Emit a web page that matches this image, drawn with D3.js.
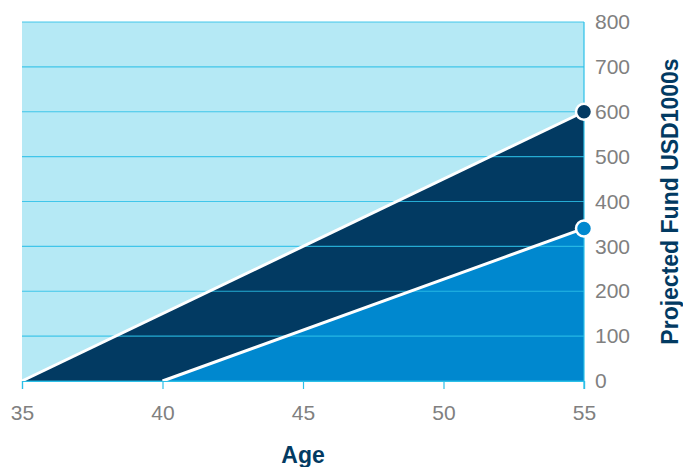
<!DOCTYPE html>
<html>
<head>
<meta charset="utf-8">
<script src="https://cdn.jsdelivr.net/npm/d3@7"></script>
<style>
  body { margin: 0; background: #fff; }
  text { font-family: "Liberation Sans", Arial, sans-serif; }
</style>
</head>
<body>
<script>
// data
const ages = [35, 40, 45, 50, 55]
const fundTicks = [0, 100, 200, 300, 400, 500, 600, 700, 800]
const totalAge = [35, 55]
const totalFund = [0, 600]
const partAge = [40, 55]
const partFund = [0, 340]

const width = 683
const height = 467
const margin = {top: 22, right: 99, bottom: 86, left: 22}

const svg = d3.select("body").append("svg")
    .attr("width", width)
    .attr("height", height)

const x = d3.scaleLinear()
    .domain([35, 55])
    .range([margin.left, width - margin.right])

const y = d3.scaleLinear()
    .domain([0, 800])
    .range([height - margin.bottom, margin.top])

// background
svg.append("rect")
    .attr("x", x(35))
    .attr("y", y(800))
    .attr("width", x(55) - x(35))
    .attr("height", y(0) - y(800))
    .attr("fill", "#b5e9f5")

const area = d3.area()
    .x(d => x(d[0]))
    .y0(y(0))
    .y1(d => y(d[1]))

const totalPts = totalAge.map((a, i) => [a, totalFund[i]])
const partPts = partAge.map((a, i) => [a, partFund[i]])

svg.append("path").datum(totalPts).attr("d", area).attr("fill", "#023a62")
svg.append("path").datum(partPts).attr("d", area).attr("fill", "#0088cf")

// gridlines
svg.append("g")
    .selectAll("line")
    .data(fundTicks)
    .join("line")
    .attr("x1", x(35))
    .attr("x2", x(55))
    .attr("y1", d => y(d))
    .attr("y2", d => y(d))
    .attr("stroke", "#2cc0e8")
    .attr("stroke-opacity", 0.85)
    .attr("stroke-width", 1.2)

// lines
const line = d3.line().x(d => x(d[0])).y(d => y(d[1]))
svg.append("path").datum(totalPts).attr("d", line)
    .attr("fill", "none").attr("stroke", "#fff").attr("stroke-width", 3)
svg.append("path").datum(partPts).attr("d", line)
    .attr("fill", "none").attr("stroke", "#fff").attr("stroke-width", 3)

// right axis
const rightAxis = svg.append("g")
    .attr("transform", `translate(${x(55)},0)`)
    .call(d3.axisRight(y).tickValues(fundTicks).tickSize(0).tickPadding(11))
rightAxis.select(".domain").remove()
rightAxis.selectAll("text")
    .attr("fill", "#808080")
    .style("font-size", "21px")

svg.append("line")
    .attr("x1", x(55)).attr("x2", x(55))
    .attr("y1", y(800)).attr("y2", y(0) + 8)
    .attr("stroke", "#2cc0e8").attr("stroke-width", 1.2)

// bottom axis
const bottomAxis = svg.append("g")
    .attr("transform", `translate(0,${y(0)})`)
    .call(d3.axisBottom(x).tickValues(ages).tickSize(8).tickPadding(16))
bottomAxis.select(".domain").attr("stroke", "#2cc0e8").attr("stroke-width", 1.2)
bottomAxis.selectAll("line").attr("stroke", "#2cc0e8").attr("stroke-width", 1.2)
bottomAxis.selectAll("text")
    .attr("fill", "#808080")
    .style("font-size", "21px")

// end points
svg.append("circle")
    .attr("cx", x(totalAge[1])).attr("cy", y(totalFund[1])).attr("r", 8)
    .attr("fill", "#023a62").attr("stroke", "#fff").attr("stroke-width", 2.5)
svg.append("circle")
    .attr("cx", x(partAge[1])).attr("cy", y(partFund[1])).attr("r", 8)
    .attr("fill", "#0088cf").attr("stroke", "#fff").attr("stroke-width", 2.5)

// axis titles
svg.append("text")
    .attr("x", (x(35) + x(55)) / 2)
    .attr("y", 463)
    .attr("text-anchor", "middle")
    .attr("fill", "#023a62")
    .style("font-size", "23px")
    .style("font-weight", "bold")
    .text("Age")

svg.append("text")
    .attr("transform", `translate(678, ${(y(0) + y(800)) / 2}) rotate(-90)`)
    .attr("text-anchor", "middle")
    .attr("fill", "#023a62")
    .style("font-size", "23px")
    .style("font-weight", "bold")
    .text("Projected Fund USD1000s")
</script>
</body>
</html>
